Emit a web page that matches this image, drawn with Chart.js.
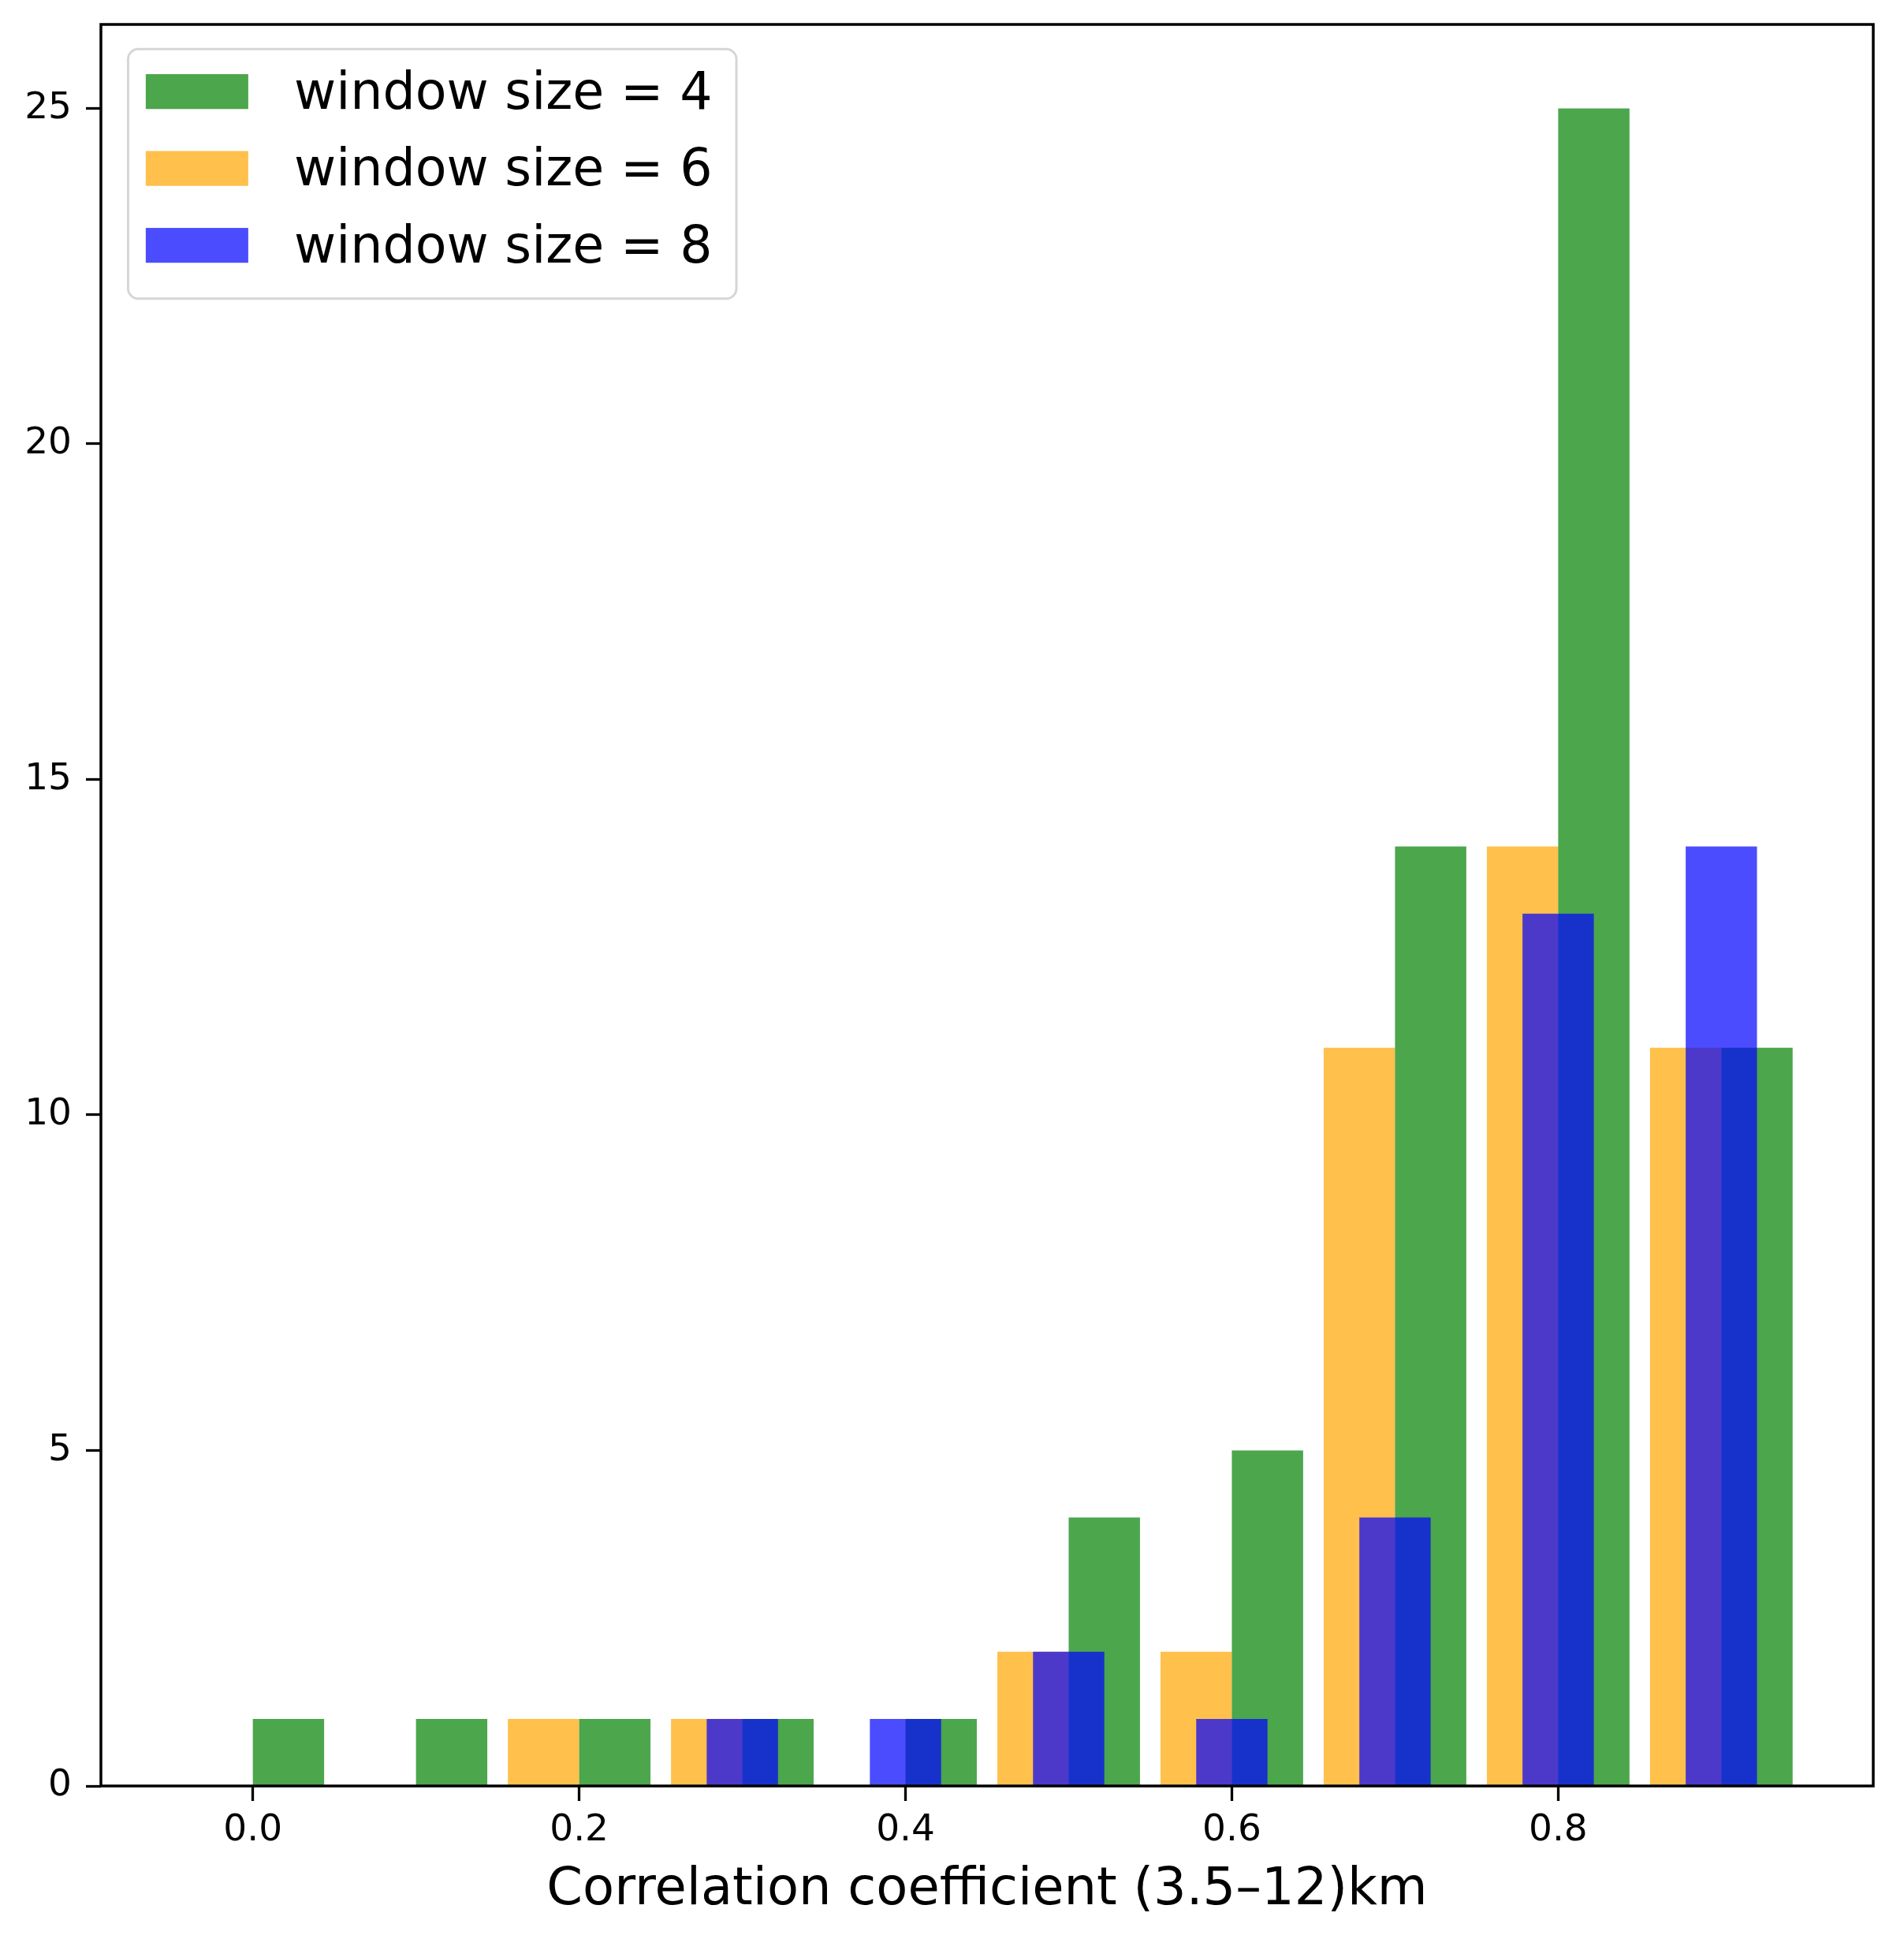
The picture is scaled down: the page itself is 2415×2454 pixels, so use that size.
<!DOCTYPE html>
<html>
<head>
<meta charset="utf-8">
<script src="https://cdn.jsdelivr.net/npm/chart.js@4.4.0/dist/chart.umd.min.js"></script>
<style>
html,body{margin:0;padding:0;background:#ffffff;}
canvas{display:block;}
</style>
</head>
<body>
<canvas id="c" width="2415" height="2454" style="width:2415px;height:2454px"></canvas>
<script>
// ---- data ----
const binCenters = [0.0, 0.1, 0.2, 0.3, 0.4, 0.5, 0.6, 0.7, 0.8, 0.9];
const countsW4 = [1, 1, 1, 1, 1, 4, 5, 14, 25, 11];
const countsW6 = [0, 0, 1, 1, 0, 2, 2, 11, 14, 11];
const countsW8 = [0, 0, 0, 1, 1, 2, 1, 4, 13, 14];
const seriesLabels = ['window size = 4', 'window size = 6', 'window size = 8'];
const xTickValues = [0.0, 0.2, 0.4, 0.6, 0.8];
const yTickValues = [0, 5, 10, 15, 20, 25];
const xTitle = 'Correlation coefficient (3.5\u201312)km';

// ---- styling / layout ----
const BAR_W = 0.0437;
const COL_GREEN = 'rgba(0,128,0,0.7)';
const COL_ORANGE = 'rgba(255,165,0,0.7)';
const COL_BLUE = 'rgba(0,0,255,0.7)';
const FONT = '"DejaVu Sans", "Liberation Sans", sans-serif';

Chart.defaults.font.family = FONT;
Chart.defaults.color = '#000';

function points(offset, counts) {
  return binCenters.map((c, i) => ({ x: c + offset, y: counts[i] }));
}

function zeroPad(s) {
  s.paddingTop = 0; s.paddingBottom = 0; s.paddingLeft = 0; s.paddingRight = 0;
}

const spinePlugin = {
  id: 'spines',
  afterDatasetsDraw(chart) {
    const { ctx, chartArea: a } = chart;
    ctx.save();
    ctx.strokeStyle = '#000';
    ctx.lineWidth = 3.5;
    ctx.strokeRect(a.left, a.top, a.right - a.left, a.bottom - a.top);
    ctx.restore();
  }
};

const legendPlugin = {
  id: 'mplLegend',
  afterDraw(chart) {
    const { ctx, chartArea: a } = chart;
    const ds = chart.data.datasets;
    const fs = 65;
    ctx.save();
    ctx.font = fs + 'px ' + FONT;
    const maxW = Math.max(...ds.map(d => ctx.measureText(d.label).width));
    const bx = a.left + 0.53 * fs;
    const by = a.top + 0.48 * fs;
    const padL = 0.345 * fs, handleW = 2.0 * fs, handleH = 0.68 * fs;
    const textX = 3.24 * fs, firstRow = 0.83 * fs, rowH = 1.5 * fs;
    const bw = textX + maxW + 0.47 * fs;
    const bh = firstRow + rowH * (ds.length - 1) + 1.04 * fs;
    const r = 0.2 * fs;
    ctx.beginPath();
    ctx.moveTo(bx + r, by);
    ctx.lineTo(bx + bw - r, by);
    ctx.arcTo(bx + bw, by, bx + bw, by + r, r);
    ctx.lineTo(bx + bw, by + bh - r);
    ctx.arcTo(bx + bw, by + bh, bx + bw - r, by + bh, r);
    ctx.lineTo(bx + r, by + bh);
    ctx.arcTo(bx, by + bh, bx, by + bh - r, r);
    ctx.lineTo(bx, by + r);
    ctx.arcTo(bx, by, bx + r, by, r);
    ctx.closePath();
    ctx.fillStyle = 'rgba(255,255,255,0.8)';
    ctx.fill();
    ctx.strokeStyle = 'rgba(204,204,204,0.8)';
    ctx.lineWidth = 3;
    ctx.stroke();
    ctx.textBaseline = 'alphabetic';
    ctx.textAlign = 'left';
    ds.forEach((d, i) => {
      const cy = by + firstRow + i * rowH;
      ctx.fillStyle = '#fff';
      ctx.fillRect(bx + padL, cy - handleH / 2, handleW, handleH);
      ctx.fillStyle = d.backgroundColor;
      ctx.fillRect(bx + padL, cy - handleH / 2, handleW, handleH);
      ctx.fillStyle = '#000';
      ctx.fillText(d.label, bx + textX, cy + 0.333 * fs);
    });
    ctx.restore();
  }
};

const barCommon = {
  borderWidth: 0,
  grouped: false,
  barPercentage: 2,
  categoryPercentage: 1
};

new Chart(document.getElementById('c'), {
  type: 'bar',
  data: {
    datasets: [
      Object.assign({ label: seriesLabels[0], data: points(BAR_W / 2, countsW4), backgroundColor: COL_GREEN, order: 1 }, barCommon),
      Object.assign({ label: seriesLabels[1], data: points(-BAR_W / 2, countsW6), backgroundColor: COL_ORANGE, order: 1 }, barCommon),
      Object.assign({ label: seriesLabels[2], data: points(0, countsW8), backgroundColor: COL_BLUE, order: 0 }, barCommon)
    ]
  },
  options: {
    responsive: false,
    maintainAspectRatio: false,
    devicePixelRatio: 1,
    animation: false,
    layout: { padding: { top: 31, right: 39, left: 0, bottom: 0 } },
    plugins: { legend: { display: false }, tooltip: { enabled: false } },
    scales: {
      x: {
        type: 'linear',
        offset: false,
        min: -0.0931,
        max: 0.9931,
        afterBuildTicks: s => { s.ticks = xTickValues.map(v => ({ value: v })); },
        afterFit: s => { s.height = 189; zeroPad(s); },
        border: { display: false },
        grid: { display: true, offset: false, drawOnChartArea: false, drawTicks: true, tickLength: 19, tickWidth: 3.3, tickColor: '#000' },
        ticks: {
          padding: 10,
          maxRotation: 0,
          autoSkip: false,
          font: { size: 47 },
          color: '#000',
          callback: v => Number(v).toFixed(1)
        },
        title: {
          display: true,
          text: xTitle,
          font: { size: 65.5 },
          color: '#000',
          padding: { top: 0, bottom: 17 }
        }
      },
      y: {
        type: 'linear',
        min: 0,
        max: 26.25,
        afterBuildTicks: s => { s.ticks = yTickValues.map(v => ({ value: v })); },
        afterFit: s => { s.width = 128; zeroPad(s); },
        border: { display: false },
        grid: { display: true, drawOnChartArea: false, drawTicks: true, tickLength: 19, tickWidth: 3.3, tickColor: '#000' },
        ticks: {
          padding: 18,
          autoSkip: false,
          font: { size: 47 },
          color: '#000',
          callback: v => String(v)
        }
      }
    }
  },
  plugins: [spinePlugin, legendPlugin]
});
</script>
</body>
</html>
